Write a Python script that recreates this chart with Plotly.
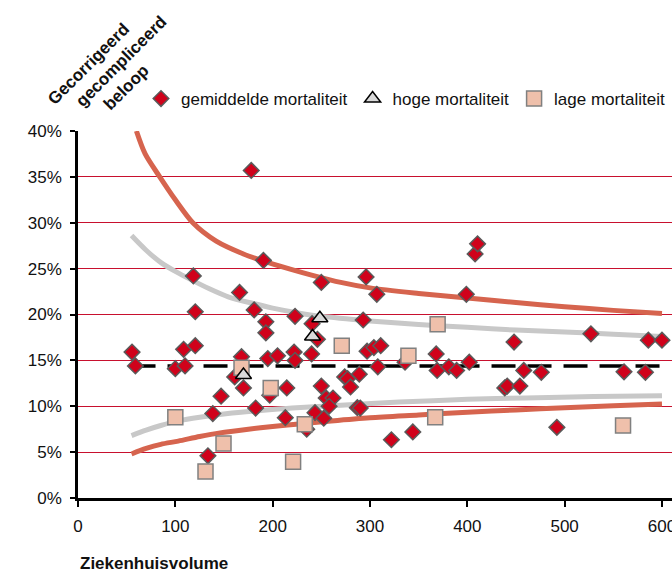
import plotly.graph_objects as go

# Ziekenhuizen met gemiddelde mortaliteit: volume en gecorrigeerd gecompliceerd beloop (%)
gem_volume = [55.5, 59, 100, 108.5, 110, 118.5, 120.5, 120.5, 133.5, 138.5,
              147, 161, 166, 168, 170, 178, 181, 182.5, 190.5, 193,
              193, 195, 197, 205, 214.5, 213, 223, 222, 223, 235,
              240, 240.5, 246, 250, 243.5, 250, 252.5, 255, 262, 258,
              274, 277, 280, 289, 287, 290, 296, 293, 297, 304,
              311, 307, 308, 322, 336, 344, 368, 369, 381, 389,
              399, 402, 408, 410.5, 438.5, 441, 448, 454, 458, 476,
              492, 527, 561, 583, 586, 600]
gem_pct = [15.9, 14.4, 14.1, 16.2, 14.4, 24.2, 20.3, 16.6, 4.6, 9.2,
           11.1, 13.2, 22.4, 15.4, 12.0, 35.7, 20.5, 9.8, 25.9, 19.2,
           18.0, 15.2, 11.2, 15.5, 12.0, 8.75, 19.8, 15.9, 15.0, 7.5,
           15.7, 19.0, 17.3, 23.5, 9.3, 12.2, 8.7, 10.9, 10.9, 10.0,
           13.2, 13.0, 12.1, 13.5, 9.85, 9.8, 24.1, 19.4, 16.0, 16.4,
           16.6, 22.2, 14.3, 6.35, 14.8, 7.2, 15.7, 13.9, 14.3, 13.9,
           22.2, 14.8, 26.6, 27.7, 12.0, 12.2, 17.0, 12.2, 13.9, 13.7,
           7.7, 17.9, 13.75, 13.7, 17.2, 17.2]

# Ziekenhuizen met hoge mortaliteit
hoog_volume = [170, 241, 248.5]
hoog_pct = [13.4, 17.6, 19.6]

# Ziekenhuizen met lage mortaliteit
laag_volume = [100, 131, 149.5, 168, 198, 221, 233, 271, 339.5, 369.5, 367, 560]
laag_pct = [8.8, 2.9, 5.95, 14.2, 12.0, 3.95, 8.05, 16.6, 15.5, 18.95, 8.8, 7.9]

# Landelijk gemiddelde
gemiddelde_pct = 14.4
gemiddelde_bereik = [55, 605]

# Controlegrenzen (binnenste grijs, buitenste rood)
grijs_boven_x = [55, 70, 86, 100, 116, 135, 155, 180, 200, 225, 250, 300, 350, 400, 450, 500, 550, 600]
grijs_boven_y = [28.6, 27.0, 25.6, 24.7, 23.8, 22.8, 21.9, 21.2, 20.7, 20.2, 19.8, 19.3, 18.9, 18.6, 18.3, 18.1, 17.85, 17.6]
grijs_onder_x = [55, 70, 85, 103, 125, 154, 185, 220, 270, 330, 400, 460, 530, 600]
grijs_onder_y = [6.8, 7.4, 7.9, 8.4, 8.8, 9.2, 9.5, 9.8, 10.1, 10.45, 10.75, 10.9, 11.05, 11.15]
rood_boven_x = [60, 69, 84, 100, 118, 142, 170, 190, 218, 240, 270, 300, 350, 400, 450, 500, 550, 600]
rood_boven_y = [40.0, 37.5, 35.0, 32.5, 30.0, 28.0, 26.6, 25.85, 24.95, 24.3, 23.5, 22.9, 22.3, 21.8, 21.3, 20.85, 20.45, 20.1]
rood_onder_x = [55, 70, 85, 103, 125, 146, 175, 200, 230, 260, 300, 350, 400, 450, 500, 550, 600]
rood_onder_y = [4.8, 5.4, 5.85, 6.2, 6.7, 7.1, 7.5, 7.8, 8.1, 8.4, 8.75, 9.05, 9.35, 9.6, 9.85, 10.05, 10.25]

y_ticks = [0, 5, 10, 15, 20, 25, 30, 35, 40]
y_ticklabels = [f"{v}%" for v in y_ticks]
x_ticks = [0, 100, 200, 300, 400, 500, 600]

FONT = "Liberation Sans, Arial, Helvetica, sans-serif"
GRIJS = "#c8c8c8"
ROOD = "#d6644e"

fig = go.Figure()

for xs, ys, kleur in [(grijs_boven_x, grijs_boven_y, GRIJS), (grijs_onder_x, grijs_onder_y, GRIJS),
                      (rood_boven_x, rood_boven_y, ROOD), (rood_onder_x, rood_onder_y, ROOD)]:
    fig.add_trace(go.Scatter(x=xs, y=ys, mode="lines", showlegend=False, hoverinfo="skip",
                             line=dict(color=kleur, width=5, shape="spline", smoothing=0.8)))

fig.add_trace(go.Scatter(x=gemiddelde_bereik, y=[gemiddelde_pct, gemiddelde_pct], mode="lines",
                         showlegend=False, hoverinfo="skip",
                         line=dict(color="black", width=3.5, dash="24px,12px")))

fig.add_trace(go.Scatter(x=gem_volume, y=gem_pct, mode="markers", name="gemiddelde mortaliteit",
                         legendrank=1,
                         marker=dict(symbol="diamond", size=12, color="#d0021b",
                                     line=dict(color="#5a5a5a", width=1.5))))
fig.add_trace(go.Scatter(x=laag_volume, y=laag_pct, mode="markers", name="lage mortaliteit",
                         legendrank=3,
                         marker=dict(symbol="square", size=15, color="#efc0ab",
                                     line=dict(color="#808080", width=1.5))))
fig.add_trace(go.Scatter(x=hoog_volume, y=hoog_pct, mode="markers", name="hoge mortaliteit",
                         legendrank=2,
                         marker=dict(symbol="triangle-up", size=14, color="#d9d9d9",
                                     line=dict(color="black", width=1.5))))

fig.update_layout(
    width=672, height=573,
    margin=dict(l=78, r=0, t=131, b=75, autoexpand=False),
    paper_bgcolor="white", plot_bgcolor="white",
    font=dict(family=FONT, size=17, color="#111111"),
    showlegend=True,
    legend=dict(orientation="h", x=(141 - 78) / 594, xanchor="left",
                y=(498 - 99) / 367, yanchor="middle", itemwidth=30,
                font=dict(size=17), bgcolor="rgba(0,0,0,0)", traceorder="normal"),
    xaxis=dict(range=[0, 610.3], tickvals=x_ticks, showgrid=False, zeroline=False,
               showline=True, linecolor="black", linewidth=2.5,
               ticks="outside", ticklen=6, tickwidth=2, tickcolor="black",
               ticklabeloverflow="allow", ticklabelstandoff=5,
               tickfont=dict(size=17, color="#111111")),
    yaxis=dict(range=[0, 40], tickvals=y_ticks, ticktext=y_ticklabels,
               showgrid=True, gridcolor="#c8102e", gridwidth=1, zeroline=False,
               showline=True, linecolor="black", linewidth=2.5,
               ticks="outside", ticklen=5, tickwidth=2, tickcolor="black",
               ticklabelstandoff=5,
               tickfont=dict(size=17, color="#111111")),
)

# As-titel horizontaal
fig.add_annotation(text="<b>Ziekenhuisvolume</b>", xref="paper", yref="paper",
                   x=0, y=(498 - 563) / 367, xanchor="left", yanchor="middle",
                   showarrow=False, font=dict(size=17, color="#111111"))

# As-titel verticaal, schuin geplaatst (drie regels)
titel_regels = [("Gecorrigeerd", 88, 64), ("gecompliceerd", 121, 61), ("beloop", 126, 87)]
for tekst, px, py in titel_regels:
    fig.add_annotation(text=f"<b>{tekst}</b>", xref="paper", yref="paper",
                       x=(px - 78) / 594, y=(498 - py) / 367, xanchor="center", yanchor="middle",
                       textangle=-45, showarrow=False, font=dict(size=17, color="#111111"))

fig.write_html("out.html")
